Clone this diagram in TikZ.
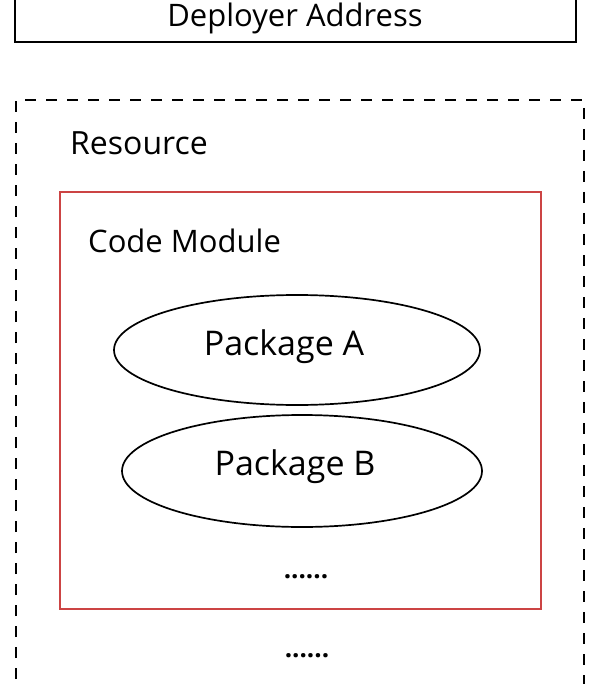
\documentclass[tikz,border=0pt]{standalone}
\usepackage{fontspec}
\setmainfont{Open Sans}
\definecolor{boxred}{HTML}{CC4444}
\begin{document}
\begin{tikzpicture}[x=1pt,y=-1pt,
  lbl/.style={font=\fontsize{32}{36}\selectfont, inner sep=0pt},
  solidbox/.style={draw=black, line width=1.9pt},
  dashbox/.style={draw=black, line width=1.9pt, dash pattern=on 11pt off 10pt},
  redbox/.style={draw=boxred, line width=1.9pt},
  dots/.style={font=\bfseries\fontsize{26}{28}\selectfont, inner sep=0pt}]
\useasboundingbox (0,0) rectangle (600,684);
\clip (0,0) rectangle (600,684);
\draw[solidbox] (15,-20) rectangle (576,42);
\node[lbl, anchor=base, font=\fontsize{31}{34}\selectfont] (dep) at (295,27) {Deployer Address};
\draw[dashbox] (16,700) -- (16,100) -- (584,100) -- (584,700);
\node[lbl, anchor=west] (res) at (70,143) {Resource};
\draw[redbox] (60,192) rectangle (541,609);
\node[lbl, anchor=west, font=\fontsize{31}{34}\selectfont] (cm) at (88,241) {Code Module};
\draw[line width=1.7pt] (297,350) ellipse [x radius=183, y radius=55];
\node[lbl, font=\fontsize{34}{36}\selectfont] (pa) at (284,347) {Package A};
\draw[line width=1.7pt] (302,471) ellipse [x radius=180, y radius=56];
\node[lbl, font=\fontsize{34}{36}\selectfont] (pb) at (295,467) {Package B};
\node[dots] (d1) at (306,577) {......};
\node[dots] (d2) at (307,656) {......};
\end{tikzpicture}
\end{document}
